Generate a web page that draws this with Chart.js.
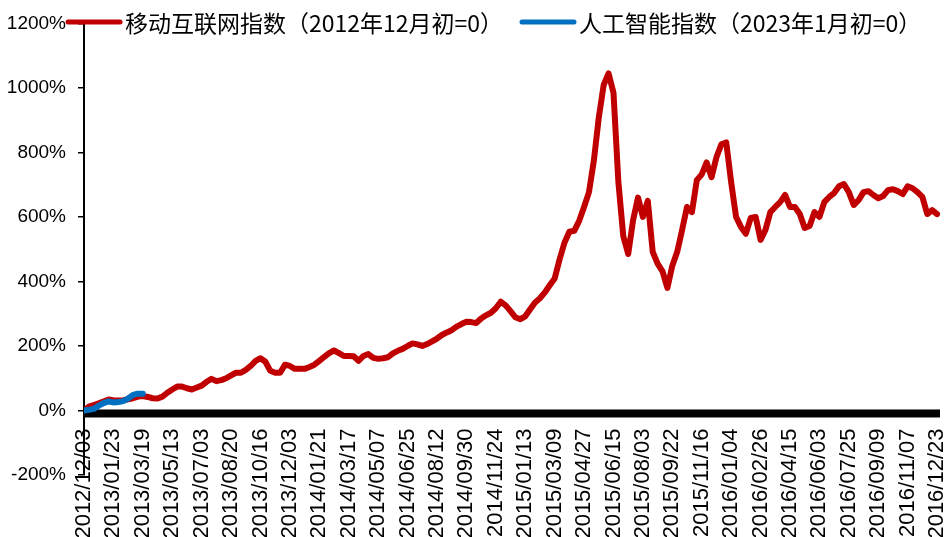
<!DOCTYPE html>
<html>
<head>
<meta charset="utf-8">
<script src="https://cdn.jsdelivr.net/npm/chart.js@4/dist/chart.umd.min.js"></script>
<style>
  html, body { margin: 0; padding: 0; background: #ffffff; }
  #wrap { width: 944px; height: 537px; }
</style>
</head>
<body>
<div id="wrap"><canvas id="c" width="944" height="537"></canvas></div>
<script>
// ---- data ----
const tickLabels = [
  '2012/12/03','2013/01/23','2013/03/19','2013/05/13','2013/07/03','2013/08/20',
  '2013/10/16','2013/12/03','2014/01/21','2014/03/17','2014/05/07','2014/06/25',
  '2014/08/12','2014/09/30','2014/11/24','2015/01/13','2015/03/09','2015/04/27',
  '2015/06/15','2015/08/03','2015/09/22','2015/11/16','2016/01/04','2016/02/26',
  '2016/04/15','2016/06/03','2016/07/25','2016/09/09','2016/11/07','2016/12/23'
];
const seriesNames = ['移动互联网指数（2012年12月初=0）', '人工智能指数（2023年1月初=0）'];
const samplesPerLabel = 6;

// 移动互联网指数, % (weekly samples)
const mobileInternet = [
  0, 12, 17, 22, 28, 34, 32, 31, 32, 35,
  38, 43, 45, 42, 38, 37, 43, 55, 65, 74,
  74, 69, 65, 71, 77, 89, 98, 91, 94, 100,
  109, 117, 117, 126, 138, 154, 162, 151, 123, 117,
  117, 142, 138, 129, 129, 129, 135, 142, 154, 166,
  178, 186, 178, 169, 169, 168, 154, 169, 175, 163,
  160, 162, 165, 177, 185, 191, 200, 208, 205, 200,
  206, 214, 223, 234, 242, 249, 260, 268, 275, 274,
  271, 285, 295, 303, 317, 337, 326, 308, 289, 283,
  292, 314, 335, 348, 366, 388, 409, 468, 520, 554,
  557, 588, 631, 677, 775, 908, 1009, 1045, 985, 708,
  540, 485, 590, 660, 600, 650, 492, 455, 431, 380,
  449, 492, 560, 631, 615, 714, 732, 769, 723, 785,
  825, 831, 708, 600, 569, 548, 597, 600, 529, 560,
  615, 631, 646, 668, 631, 631, 609, 566, 572, 615,
  600, 646, 662, 674, 695, 702, 677, 637, 652, 677,
  680, 668, 658, 665, 683, 686, 680, 671, 695, 689,
  677, 662, 609, 621, 609
];

// 人工智能指数, % (weekly samples)
const artificialIntelligence = [
  0, 2, 5, 15, 23, 28, 25, 26, 29, 37, 48, 52, 52
];

const yMin = -200, yMax = 1200, yStep = 200;

// ---- chart ----
const toPoints = arr => arr.map((v, i) => ({ x: i / samplesPerLabel, y: v }));

const colors = ['#C00000', '#0070C0'];

// thick black zero line (Excel-style horizontal axis), drawn under the series
const zeroLinePlugin = {
  id: 'zeroLine',
  beforeDatasetsDraw(chart) {
    const { ctx, chartArea, scales } = chart;
    const y0 = scales.y.getPixelForValue(0);
    ctx.save();
    ctx.fillStyle = '#000000';
    ctx.fillRect(chartArea.left, y0 - 1, chartArea.right - chartArea.left, 8);
    ctx.restore();
  }
};

const legendPlugin = {
  id: 'topLegend',
  afterDraw(chart) {
    const ctx = chart.ctx;
    const starts = [68, 522];
    const lineLen = 52, gap = 5, yMid = 22;
    ctx.save();
    chart.data.datasets.forEach((ds, i) => {
      const x0 = starts[i];
      ctx.strokeStyle = ds.borderColor;
      ctx.lineWidth = 5;
      ctx.lineCap = 'round';
      ctx.beginPath();
      ctx.moveTo(x0, yMid);
      ctx.lineTo(x0 + lineLen, yMid);
      ctx.stroke();
      ctx.fillStyle = '#000000';
      ctx.font = '23px "Noto Sans CJK SC", "Liberation Sans", sans-serif';
      ctx.textAlign = 'left';
      ctx.textBaseline = 'middle';
      ctx.fillText(ds.label, x0 + lineLen + gap, yMid + 1);
    });
    ctx.restore();
  }
};

new Chart(document.getElementById('c'), {
  type: 'line',
  data: {
    datasets: [
      {
        label: seriesNames[0],
        data: toPoints(mobileInternet),
        borderColor: colors[0],
        backgroundColor: colors[0],
        borderWidth: 6,
        pointRadius: 0,
        tension: 0,
        borderJoinStyle: 'round',
        borderCapStyle: 'round',
        order: 2
      },
      {
        label: seriesNames[1],
        data: toPoints(artificialIntelligence),
        borderColor: colors[1],
        backgroundColor: colors[1],
        borderWidth: 6,
        pointRadius: 0,
        tension: 0,
        borderJoinStyle: 'round',
        borderCapStyle: 'round',
        order: 1
      }
    ]
  },
  options: {
    responsive: false,
    animation: false,
    devicePixelRatio: 1,
    layout: { padding: { top: 20, bottom: 62, left: 0, right: 4 } },
    plugins: { legend: { display: false }, tooltip: { enabled: false } },
    scales: {
      x: {
        type: 'linear',
        position: { y: 0 },
        min: 0,
        max: tickLabels.length - 1 + 0.1,
        afterBuildTicks: s => { s.ticks = tickLabels.map((_, i) => ({ value: i })); },
        afterFit: s => { s.height = 0; s.paddingLeft = 0; s.paddingRight = 0; },
        grid: { display: false, drawTicks: false },
        border: { display: false },
        ticks: {
          autoSkip: false,
          minRotation: 90,
          maxRotation: 90,
          padding: 18,
          color: '#000000',
          font: { family: '"Liberation Sans", Arial, sans-serif', size: 22 },
          callback: v => tickLabels[v] ?? ''
        }
      },
      y: {
        position: 'left',
        min: yMin,
        max: yMax,
        afterFit: s => { s.width = 84; },
        grid: { drawOnChartArea: false, drawTicks: true, tickLength: 6, color: '#000000', lineWidth: 1.5 },
        border: { display: true, color: '#000000', width: 2 },
        ticks: {
          stepSize: yStep,
          padding: 12,
          color: '#000000',
          font: { family: '"Liberation Sans", Arial, sans-serif', size: 19 },
          callback: v => v + '%'
        }
      }
    }
  },
  plugins: [zeroLinePlugin, legendPlugin]
});
</script>
</body>
</html>
